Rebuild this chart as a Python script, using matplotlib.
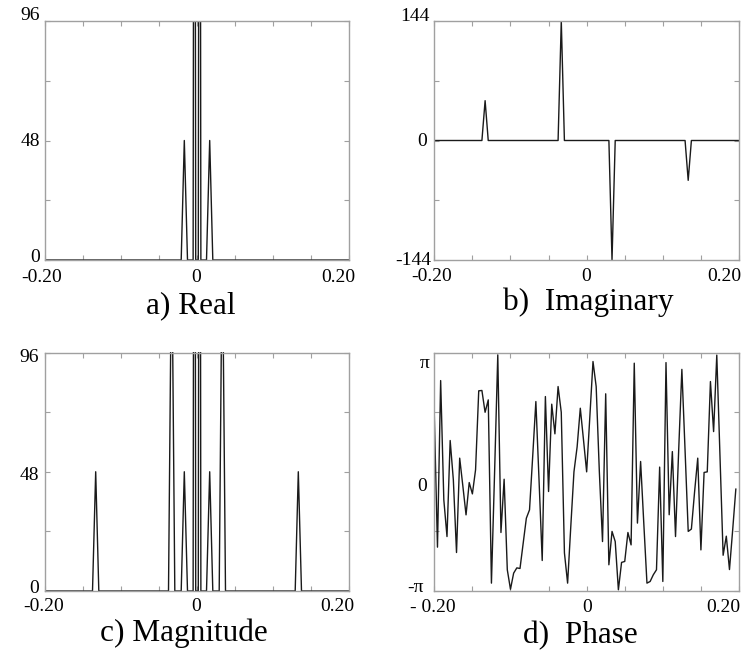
import numpy as np
import matplotlib
matplotlib.use("Agg")
import matplotlib.pyplot as plt

plt.rcParams['font.family'] = ['Liberation Serif', 'DejaVu Serif']

# ---------------- data ----------------
# a) Real part (vertex frequencies / values read from the picture)
real_freq = [-0.20, -0.0208, -0.0167, -0.0125, -0.0051, -0.0034, -0.0017,
             0.0017, 0.0034, 0.0051, 0.0125, 0.0167, 0.0208, 0.20]
real_vals = [0, 0, 48, 0, 0, 400, 0, 0, 400, 0, 0, 48, 0, 0]

# b) Imaginary part
imag_freq = [-0.20, -0.1375, -0.1333, -0.1292, -0.0375, -0.0333, -0.0292,
             0.0292, 0.0333, 0.0375, 0.1292, 0.1333, 0.1375, 0.20]
imag_vals = [0, 0, 48, 0, 0, 144, 0, 0, -144, 0, 0, -48, 0, 0]

# c) Magnitude
mag_freq = [-0.20, -0.1375, -0.1333, -0.1292, -0.0375, -0.0333, -0.0292,
            -0.0208, -0.0167, -0.0125, -0.0051, -0.0034, -0.0017,
            0.0017, 0.0034, 0.0051, 0.0125, 0.0167, 0.0208,
            0.0292, 0.0333, 0.0375, 0.1292, 0.1333, 0.1375, 0.20]
mag_vals = [0, 0, 48, 0, 0, 144, 0, 0, 48, 0, 0, 400, 0,
            0, 400, 0, 0, 48, 0, 0, 144, 0, 0, 48, 0, 0]

# d) Phase (in units of pi), 96 samples from -0.20 with spacing 1/240
phase_start = -0.20
phase_step = 1.0 / 240
phase_vals_pi = [
    0.478, -0.632, 0.766, -0.235, -0.543, 0.263, -0.067, -0.677, 0.115, -0.12,
    -0.361, -0.09, -0.185, 0.017, 0.68, 0.683, 0.50, 0.604, -0.934, 0.0,
    0.982, -0.509, -0.062, -0.822, -0.985, -0.85, -0.806, -0.811, -0.60, -0.389,
    -0.319, 0.13, 0.59, -0.07, -0.744, 0.632, -0.165, 0.568, 0.319, 0.716,
    0.50, -0.68, -0.934, -0.46, 0.0, 0.21, 0.534, 0.27, 0.0, 0.46,
    0.926, 0.716, 0.0, -0.585, 0.655, -0.78, -0.50, -0.585, -0.99, -0.76,
    -0.752, -0.509, -0.613, 0.912, -0.43, 0.087, -0.43, -0.934, -0.92, -0.864,
    -0.822, 0.04, -0.92, 0.917, -0.36, 0.17, -0.543, 0.185, 0.86, 0.185,
    -0.50, -0.48, -0.17, 0.115, -0.655, -0.005, 0.0, 0.758, 0.338, 0.98,
    0.14, -0.70, -0.54, -0.82, -0.49, -0.145]

x_ticks = [-0.20, -0.15, -0.10, -0.05, 0.0, 0.05, 0.10, 0.15, 0.20]
titles = ["a) Real", "b)  Imaginary", "c) Magnitude", "d)  Phase"]

# ---------------- figure ----------------
W, H = 747, 656
fig = plt.figure(figsize=(W / 100, H / 100), dpi=100)

def rect(l, t, r, b):
    return [l / W, 1 - b / H, (r - l) / W, (b - t) / H]

ax_a = fig.add_axes(rect(45, 21, 349, 260))
ax_b = fig.add_axes(rect(434.3, 21, 739, 260))
ax_c = fig.add_axes(rect(45, 352.5, 349, 591))
ax_d = fig.add_axes(rect(434.3, 352.7, 739, 591))

frame_col = '#a0a0a0'
line_col = '#1a1a1a'
TFS = 14

def style(ax, yticks, ylim):
    ax.set_xlim(-0.20, 0.20)
    ax.set_ylim(*ylim)
    ax.set_xticks(x_ticks)
    ax.set_yticks(yticks)
    ax.tick_params(direction='in', length=3.5, width=0.8, color=frame_col,
                   top=True, right=True, labelleft=False, labelbottom=False)
    for s in ax.spines.values():
        s.set_color(frame_col)
        s.set_linewidth(1.0)

def ylab(ax, text, val, dx, dy):
    ax.annotate(text, xy=(0, val), xycoords=('axes fraction', 'data'),
                xytext=(dx, dy), textcoords='offset pixels',
                ha='right', va='baseline', fontsize=TFS, annotation_clip=False)

def xlab(ax, text, val, dx, dy):
    ax.annotate(text, xy=(val, 0), xycoords=('data', 'axes fraction'),
                xytext=(dx, dy), textcoords='offset pixels',
                ha='center', va='baseline', fontsize=TFS, annotation_clip=False)

# a) Real
ax_a.plot(real_freq, real_vals, color=line_col, lw=1.0)
style(ax_a, [0, 24, 48, 72, 96], (0, 96))
ylab(ax_a, '96', 96, -5, 1.5)
ylab(ax_a, '48', 48, -5, -6)
ylab(ax_a, '0', 0, -5, -2.5)
xlab(ax_a, '-0.20', -0.20, -3, -22)
xlab(ax_a, '0', 0.0, -1.3, -22)
xlab(ax_a, '0.20', 0.20, -11, -22)

# b) Imaginary
ax_b.plot(imag_freq, imag_vals, color=line_col, lw=1.0)
style(ax_b, [-144, -72, 0, 72, 144], (-144, 144))
ylab(ax_b, '144', 144, -5, 0)
ylab(ax_b, '0', 0, -7, -6)
ylab(ax_b, '-144', -144, -3, -5)
xlab(ax_b, '-0.20', -0.20, -2.6, -21)
xlab(ax_b, '0', 0.0, -0.7, -21)
xlab(ax_b, '0.20', 0.20, -15, -21)

# c) Magnitude
ax_c.plot(mag_freq, mag_vals, color=line_col, lw=1.0)
style(ax_c, [0, 24, 48, 72, 96], (0, 96))
ylab(ax_c, '96', 96, -6, -9)
ylab(ax_c, '48', 48, -6, -8)
ylab(ax_c, '0', 0, -6, -2)
xlab(ax_c, '-0.20', -0.20, -1.7, -20)
xlab(ax_c, '0', 0.0, -1.3, -20)
xlab(ax_c, '0.20', 0.20, -11.5, -20)

# d) Phase
phase_freq = phase_start + phase_step * np.arange(len(phase_vals_pi))
ax_d.plot(phase_freq, np.array(phase_vals_pi) * np.pi, color=line_col, lw=1.0)
style(ax_d, [-np.pi, -np.pi / 2, 0, np.pi / 2, np.pi], (-np.pi, np.pi))
ylab(ax_d, '\u03c0', np.pi, -5, -15)
ylab(ax_d, '0', 0, -7, -19.5)
ylab(ax_d, '-\u03c0', -np.pi, -11, -1.5)
xlab(ax_d, '- 0.20', -0.20, -1.8, -20.5)
xlab(ax_d, '0', 0.0, 0.3, -20.5)
xlab(ax_d, '0.20', 0.20, -16, -20.5)

# panel captions
TTL = 22.5
for (cx, by), t in zip([(191, 313), (588, 310), (184, 641), (580, 643)], titles):
    fig.text(cx / W, 1 - by / H, t, ha='center', va='baseline', fontsize=TTL)

fig.savefig('out.png', dpi=100)
